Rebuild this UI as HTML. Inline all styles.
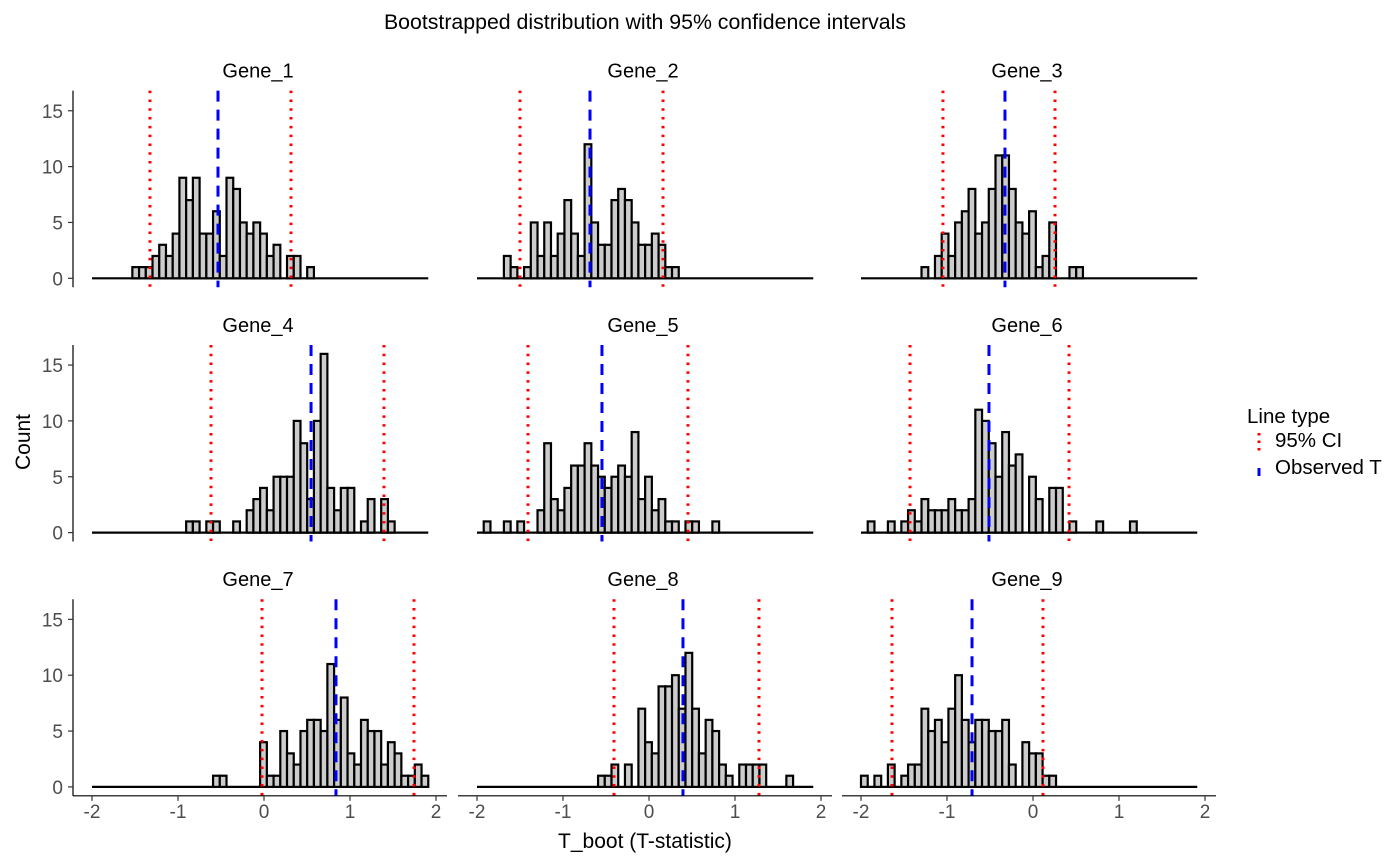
<!DOCTYPE html>
<html><head><meta charset="utf-8">
<style>
html,body{margin:0;padding:0;background:#fff;}
svg{display:block;font-family:"Liberation Sans",Arial,sans-serif;}
</style></head>
<body>
<svg id="chart" width="1400" height="865" viewBox="0 0 1400 865">
<text x="645" y="29" font-size="21.3" text-anchor="middle" fill="#000">Bootstrapped distribution with 95% confidence intervals</text>
<text x="645" y="848" font-size="21" text-anchor="middle" fill="#000">T_boot (T-statistic)</text>
<text x="0" y="0" font-size="21" text-anchor="middle" fill="#000" transform="translate(30,442) rotate(-90)">Count</text>
<g>
<text x="1247" y="423" font-size="20.5" fill="#000">Line type</text>
<line x1="1259" y1="433" x2="1259" y2="451" stroke="#ff0000" stroke-width="3" stroke-dasharray="2.5,5"/>
<text x="1275" y="447" font-size="20.5" fill="#000">95% CI</text>
<line x1="1259" y1="463" x2="1259" y2="481" stroke="#0000ff" stroke-width="3" stroke-dasharray="8,5" stroke-dashoffset="-5"/>
<text x="1275" y="474" font-size="20.5" fill="#000">Observed T</text>
</g>
<g id="panels"></g>
</svg>
<script>
const genes = ["Gene_1","Gene_2","Gene_3","Gene_4","Gene_5","Gene_6","Gene_7","Gene_8","Gene_9"];
const binMin = -2.0;
const binWidth = 0.0782;
const binCount = 50;
const firstBin = [6,4,9,14,1,1,18,18,0];
const counts1 = [1,1,1,2,3,2,4,9,7,9,4,4,6,2,9,8,5,4,5,4,2,3,0,2,2,0,1];
const counts2 = [2,1,0,1,5,2,5,2,4,7,4,2,12,5,3,3,7,8,7,5,3,3,4,3,1,1];
const counts3 = [1,0,2,4,2,5,6,8,4,5,8,11,11,8,5,4,6,1,2,5,0,0,1,1];
const counts4 = [1,1,0,1,1,0,0,1,0,2,3,4,2,5,5,5,10,8,3,10,16,4,2,4,4,0,1,3,0,3,1];
const counts5 = [1,0,0,1,0,1,0,0,2,8,3,2,4,6,6,8,6,5,4,5,6,5,9,3,5,2,3,1,1,0,1,1,0,0,1];
const counts6 = [1,0,0,1,0,1,2,1,3,2,2,2,3,2,2,3,11,10,8,5,9,6,7,0,5,3,0,4,4,0,1,0,0,0,1,0,0,0,0,1];
const counts7 = [1,1,0,0,0,0,0,4,1,1,5,3,2,5,6,6,5,11,6,8,3,2,6,5,5,2,4,3,1,1,2,1];
const counts8 = [1,1,2,0,2,0,7,4,3,9,9,10,7,12,7,3,6,5,2,1,0,2,2,2,2,0,0,0,1];
const counts9 = [1,0,1,0,2,0,1,2,2,7,5,6,4,7,10,6,4,6,6,5,5,6,2,0,4,3,3,1,1];
const allCounts = [counts1,counts2,counts3,counts4,counts5,counts6,counts7,counts8,counts9];
const ciLow = [-1.326,-1.50,-1.047,-0.616,-1.407,-1.43,-0.023,-0.407,-1.64];
const ciHigh = [0.314,0.163,0.256,1.395,0.453,0.419,1.744,1.279,0.116];
const observed = [-0.535,-0.686,-0.326,0.547,-0.547,-0.512,0.837,0.395,-0.709];
const xTicks = [-2,-1,0,1,2];
const yTicks = [0,5,10,15];

const NS = "http://www.w3.org/2000/svg";
const root = document.getElementById("panels");
const colX0 = [92, 477, 861];
const xScalePx = 86;
const rowY0 = [278.3, 532.6, 786.9];
const yScalePx = 11.17;
function mk(tag, attrs, parent){const e=document.createElementNS(NS,tag);for(const k in attrs)e.setAttribute(k,attrs[k]);parent.appendChild(e);return e;}
function sx(col,v){return colX0[col]+(v+2)*xScalePx;}
function sy(row,c){return rowY0[row]-c*yScalePx;}

for(let p=0;p<9;p++){
  const col=p%3,row=Math.floor(p/3);
  const g=mk("g",{},root);
  
  
  const top=sy(row,16.8), bot=sy(row,-0.8);
  const t=mk("text",{x:sx(col,0)-6,y:top-13,"font-size":"20","text-anchor":"middle",fill:"#000"},g);
  t.textContent=genes[p];
  
  
  const bl=mk("line",{x1:sx(col,binMin),x2:sx(col,binMin+binCount*binWidth),y1:sy(row,0),y2:sy(row,0),stroke:"#000","stroke-width":"2.2"},g);
  
  
  const cs=allCounts[p];
  for(let i=0;i<cs.length;i++){
    if(cs[i]<=0)continue;
    const b=firstBin[p]+i;
    const x1=sx(col,binMin+b*binWidth), x2=sx(col,binMin+(b+1)*binWidth);
    const r=mk("rect",{x:x1,y:sy(row,cs[i]),width:x2-x1,height:sy(row,0)-sy(row,cs[i]),fill:"#cccccc",stroke:"#000","stroke-width":"2.2"},g);
    
    
  }
  [ciLow[p],ciHigh[p]].forEach(v=>{
    const l=mk("line",{x1:sx(col,v),x2:sx(col,v),y1:top,y2:bot,stroke:"#ff0000","stroke-width":"3","stroke-dasharray":"2.5,6.3"},g);
    
    
  });
  const ol=mk("line",{x1:sx(col,observed[p]),x2:sx(col,observed[p]),y1:top,y2:bot,stroke:"#0000ff","stroke-width":"3","stroke-dasharray":"11,8"},g);
  
  
  if(col===0){
    const ax=mk("line",{x1:73,x2:73,y1:top,y2:bot,stroke:"#000","stroke-width":"1.2"},g);
    
    
    yTicks.forEach(v=>{
      const tk=mk("line",{x1:68,x2:73,y1:sy(row,v),y2:sy(row,v),stroke:"#333","stroke-width":"1.2"},g);
      
      
      const tl=mk("text",{x:63,y:sy(row,v)+7,"font-size":"19","text-anchor":"end",fill:"#4d4d4d"},g);
      tl.textContent=v;
      
      
    });
  }
  if(row===2){
    const ax=mk("line",{x1:colX0[col]-19,x2:colX0[col]+355,y1:bot,y2:bot,stroke:"#000","stroke-width":"1.2"},g);
    
    
    xTicks.forEach(v=>{
      const tk=mk("line",{x1:sx(col,v),x2:sx(col,v),y1:bot,y2:bot+5,stroke:"#333","stroke-width":"1.2"},g);
      
      
      const tl=mk("text",{x:sx(col,v),y:bot+22,"font-size":"19","text-anchor":"middle",fill:"#4d4d4d"},g);
      tl.textContent=v;
      
      
    });
  }
}
</script>
</body></html>
